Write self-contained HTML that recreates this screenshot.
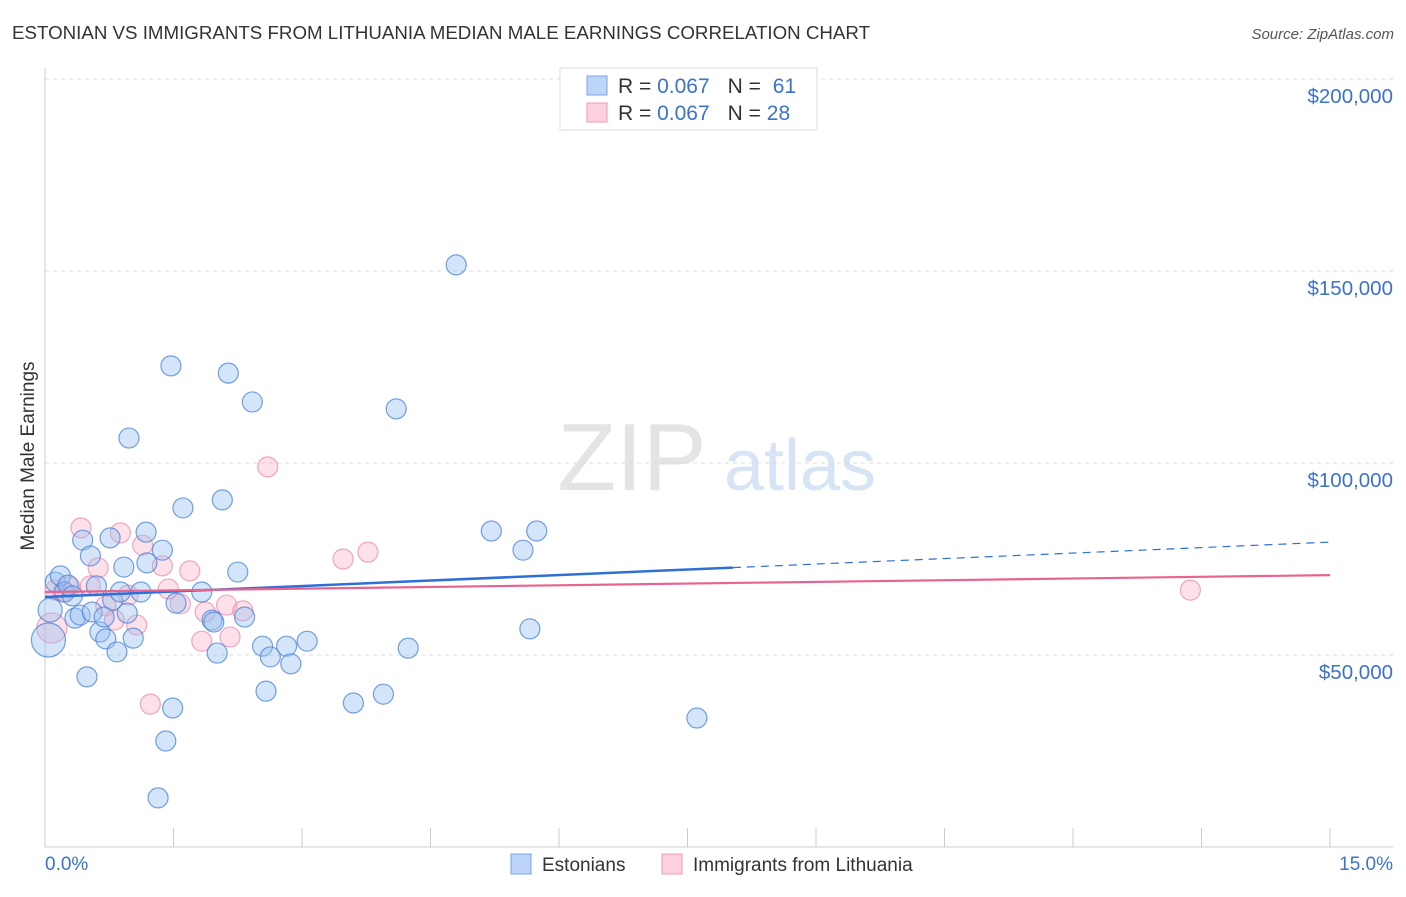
<!DOCTYPE html>
<html><head><meta charset="utf-8"><style>
body{margin:0;background:#fff;font-family:"Liberation Sans",sans-serif;}
svg text{font-family:"Liberation Sans",sans-serif;}
</style></head><body>
<svg id="chart" width="1406" height="892" xmlns="http://www.w3.org/2000/svg">
<text x="12" y="39" font-size="18" fill="#333" textLength="858" lengthAdjust="spacingAndGlyphs">ESTONIAN VS IMMIGRANTS FROM LITHUANIA MEDIAN MALE EARNINGS CORRELATION CHART</text>
<text x="1394" y="39" font-size="15" fill="#555" font-style="italic" text-anchor="end">Source: ZipAtlas.com</text>
<text x="632" y="490" font-size="96" fill="#e4e4e4" font-family="Liberation Serif" text-anchor="middle">ZIP</text>
<text x="800" y="490" font-size="72" fill="#d6e4f5" text-anchor="middle">atlas</text>
<g id="grid"></g>
<g id="axes"></g>
<g id="pts"></g>
<g id="trend"></g>
<text transform="translate(34,456) rotate(-90)" font-size="19" fill="#333" text-anchor="middle">Median Male Earnings</text>
<text x="45" y="870" font-size="19" fill="#3b73cc">0.0%</text>
<text x="1393" y="870" font-size="19" fill="#3b73cc" text-anchor="end">15.0%</text>
<g>
<rect x="560" y="68" width="257" height="62" fill="#fff" stroke="#ddd"/>
<rect x="587" y="76" width="20" height="19" fill="#bcd4f5" stroke="#7aa5e6"/>
<rect x="587" y="103" width="20" height="19" fill="#fcd0dc" stroke="#f19ab3"/>
<text x="618" y="93" font-size="21" fill="#333">R = <tspan fill="#3b73cc">0.067</tspan><tspan dx="18">N = </tspan><tspan fill="#3b73cc" dx="6">61</tspan></text>
<text x="618" y="120" font-size="21" fill="#333">R = <tspan fill="#3b73cc">0.067</tspan><tspan dx="18">N = </tspan><tspan fill="#3b73cc">28</tspan></text>
</g>
<g>
<rect x="511" y="854" width="20" height="20" fill="#bcd4f5" stroke="#7aa5e6"/>
<text x="542" y="871" font-size="19" fill="#333">Estonians</text>
<rect x="662" y="854" width="20" height="20" fill="#fcd0dc" stroke="#f19ab3"/>
<text x="693" y="871" font-size="19" fill="#333">Immigrants from Lithuania</text>
</g>
</svg>
<script>
const yTicks=[50000,100000,150000,200000];
const yTickLabels=["$50,000","$100,000","$150,000","$200,000"];
const xTicks=[0,1.5,3,4.5,6,7.5,9,10.5,12,13.5,15];
const blueX=[.06,.04,.12,.18,.23,.27,.32,.35,.41,.44,.49,.53,.55,.60,.64,.69,.71,.76,.79,.84,.88,.92,.96,.98,1.03,1.12,1.18,1.19,1.32,1.37,1.41,1.47,1.49,1.53,1.61,1.83,1.95,1.97,2.01,2.07,2.14,2.25,2.33,2.42,2.54,2.58,2.63,2.82,2.87,3.06,3.60,3.95,4.10,4.24,4.80,5.21,5.58,5.66,5.74,7.61];
const blueY=[61.7,53.9,69.0,70.6,66.4,68.2,65.4,59.6,60.4,79.9,44.3,75.8,61.2,68.0,56.0,59.9,54.2,80.5,64.3,50.8,66.4,72.9,60.9,106.5,54.4,66.4,82.0,74.0,12.8,77.3,27.6,125.3,36.2,63.5,88.3,66.4,59.1,58.6,50.5,90.4,123.4,71.6,59.9,115.9,52.3,40.6,49.5,52.3,47.7,53.6,37.5,39.8,114.1,51.8,151.6,82.3,77.3,56.8,82.3,33.6];
const blueSize=[12,17,10,10,10,10,10,10,10,10,10,10,10,10,10,10,10,10,10,10,10,10,10,10,10,10,10,10,10,10,10,10,10,10,10,10,10,10,10,10,10,10,10,10,10,10,10,10,10,10,10,10,10,10,10,10,10,10,10,10];
const pinkX=[.08,.12,.21,.29,.42,.53,.62,.71,.81,.88,.97,1.07,1.14,1.23,1.37,1.44,1.58,1.69,1.83,1.87,2.12,2.16,2.31,2.60,3.48,3.77,13.37];
const pinkY=[57.0,66.9,66.4,67.7,83.1,68.0,72.7,62.8,59.1,81.8,65.6,57.8,78.6,37.2,73.2,67.2,63.3,71.9,53.6,61.2,63.0,54.7,61.5,99.0,75.0,76.8,66.9];
const pinkSize=[15,10,10,10,10,10,10,10,10,10,10,10,10,10,10,10,10,10,10,10,10,10,10,10,10,10,10];
const blueTrend=[65.1,79.4];const blueSolidEnd=8.03;
const pinkTrend=[66.4,70.8];
const NS="http://www.w3.org/2000/svg";
const X=v=>45+v*(1285/15);
const Y=v=>847-v*192/50000;
function mk(tag,attrs,parent){const e=document.createElementNS(NS,tag);for(const k in attrs)e.setAttribute(k,attrs[k]);parent.appendChild(e);return e;}
const grid=document.getElementById('grid'),axes=document.getElementById('axes'),pts=document.getElementById('pts'),tr=document.getElementById('trend');
yTicks.forEach((t,i)=>{
 const l=mk('line',{x1:45,x2:1393,y1:Y(t),y2:Y(t),stroke:'#ddd','stroke-dasharray':'4,4'},grid);
 
 
 const tx=mk('text',{x:1393,y:Y(t)+24,'font-size':20.5,fill:'#3b73cc','text-anchor':'end'},grid);
 tx.textContent=yTickLabels[i];
 
 
});
const ax=mk('line',{x1:45,x2:45,y1:68,y2:847,stroke:'#ccc'},axes);


const bx=mk('line',{x1:45,x2:1393,y1:847,y2:847,stroke:'#ccc'},axes);


xTicks.forEach(t=>{
 const l=mk('line',{x1:X(t),x2:X(t),y1:828,y2:847,stroke:'#ccc'},axes);
 
 
});
pinkX.forEach((x,i)=>{
 const c=mk('circle',{cx:X(x),cy:Y(pinkY[i]*1000),r:pinkSize[i],fill:'rgba(248,170,195,0.35)',stroke:'rgba(236,130,165,0.7)','stroke-width':1.2},pts);
 
 
});
blueX.forEach((x,i)=>{
 const c=mk('circle',{cx:X(x),cy:Y(blueY[i]*1000),r:blueSize[i],fill:'rgba(150,190,240,0.4)',stroke:'rgba(70,130,215,0.75)','stroke-width':1.2},pts);
 
 
});
const by=x=>blueTrend[0]+(blueTrend[1]-blueTrend[0])*x/15;
const b1=mk('line',{x1:X(0),y1:Y(by(0)*1000),x2:X(blueSolidEnd),y2:Y(by(blueSolidEnd)*1000),stroke:'#2f6fd6','stroke-width':2.5},tr);


const b2=mk('line',{x1:X(blueSolidEnd),y1:Y(by(blueSolidEnd)*1000),x2:X(15),y2:Y(by(15)*1000),stroke:'#2f6fd6','stroke-width':1.2,'stroke-dasharray':'8,6'},tr);


const p1=mk('line',{x1:X(0),y1:Y(pinkTrend[0]*1000),x2:X(15),y2:Y(pinkTrend[1]*1000),stroke:'#e8648e','stroke-width':2.2},tr);


</script>
</body></html>
